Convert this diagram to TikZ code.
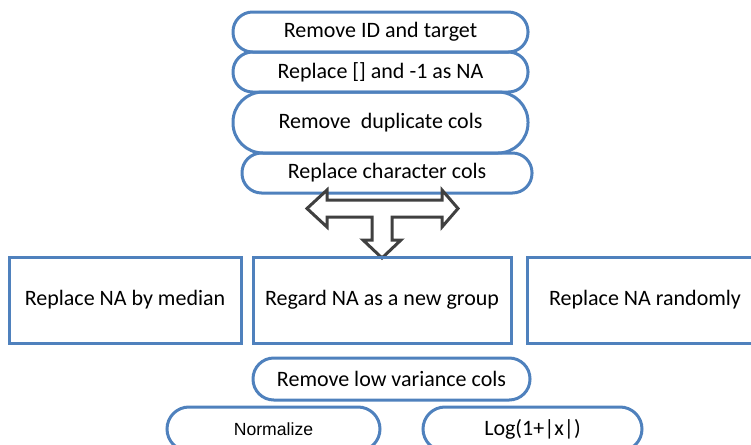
\documentclass[tikz,border=0pt]{standalone}
\usepackage{fontspec}
\setmainfont{Carlito}
\newfontfamily\arialfont{Liberation Sans}
\usepackage{tikz}
\definecolor{boxblue}{HTML}{4F81BD}
\definecolor{arrowgray}{HTML}{404040}
\tikzstyle{stage} = [draw=boxblue,line width=1.5pt,rounded corners=9.8pt,align=center,inner sep=0pt,font=\fontsize{11}{13}\selectfont]
\tikzstyle{choice} = [draw=boxblue,line width=1.5pt,inner sep=0pt,font=\fontsize{11}{13}\selectfont]

\begin{document}
\begin{tikzpicture}[x=0.5pt,y=-0.5pt]
        \useasboundingbox (0,0) rectangle (751,445);
        \node[stage, minimum width=147.5pt, minimum height=20pt] at (380.5,32) (rmid) {Remove ID and target};
        \node[stage, minimum width=147.5pt, minimum height=20pt] at (380.5,72) (repna) {Replace [] and -1 as NA};
        \node[stage, minimum width=147.5pt, minimum height=30.5pt, rounded corners=15pt] at (380.5,122.5) (rmdup) {Remove\ \ duplicate cols};
        \node[stage, minimum width=145pt, minimum height=20pt] at (387,173) (repchar) {Replace character cols};

        % split arrow
        \coordinate (split) at (382.5,208.5);
        \draw[arrowgray, line width=1.5pt, fill=white, line join=miter] (split)
            ++(-75.5,0) -- ++(20,-18.5) -- ++(0,10) -- ++(115,0) -- ++(0,-10)
            -- ++(16,18.5) -- ++(-16,18.5) -- ++(0,-10) -- ++(-50,0) -- ++(0,23)
            -- ++(9,0) -- ++(-19,18) -- ++(-19,-18) -- ++(9,0) -- ++(0,-23)
            -- ++(-45,0) -- ++(0,10) -- cycle;

        \node[choice, minimum width=116pt, minimum height=43pt] at (125,300) (median) {Replace NA by median};
        \node[choice, minimum width=129pt, minimum height=43pt] at (382,300) (newgrp) {Regard NA as a new group};
        \node[choice, minimum width=118pt, minimum height=43pt] at (645,300) (random) {Replace NA randomly};

        \node[stage, minimum width=138.5pt, minimum height=21pt, rounded corners=10.4pt] at (391.5,379) (rmlow) {Remove low variance cols};
        \node[stage, minimum width=106.5pt, minimum height=22pt, rounded corners=11pt, font=\arialfont\fontsize{8.8}{10}\selectfont] at (273.5,429) (norm) {Normalize};
        \node[stage, minimum width=109.5pt, minimum height=22pt, rounded corners=11pt] at (532.5,429) (logx) {Log(1+|x|)};
\end{tikzpicture}
\end{document}
